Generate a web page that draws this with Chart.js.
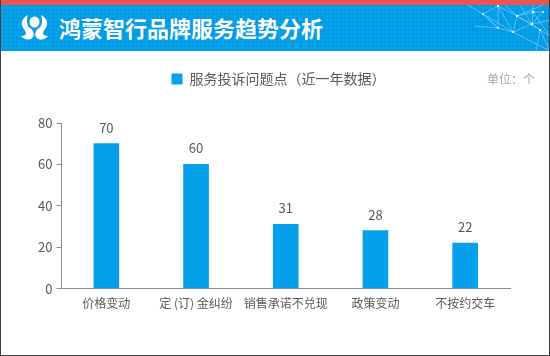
<!DOCTYPE html>
<html lang="zh">
<head>
  <meta charset="UTF-8">
  <title>鸿蒙智行品牌服务趋势分析</title>
  <script src="https://cdn.jsdelivr.net/npm/chart.js"></script>
  <style>
    html, body { margin: 0; padding: 0; background: #fff; }
    body { width: 550px; height: 356px; position: relative; overflow: hidden; font-family: "Noto Sans CJK SC", sans-serif; }
    #frame { position: absolute; left: 0; top: 0; width: 548px; height: 355px; border: 1px solid #404040; border-top: 0; }
    #redbar { position: absolute; left: 0; top: 0; width: 550px; height: 5px; background: #ee5350; }
    #header {
      position: absolute; left: 0; top: 5px; width: 550px; height: 46px;
      background-color: #04a0ea;
      background-image: radial-gradient(circle at 1px 1px, rgba(0,70,160,.12) 1px, transparent 1.2px);
      background-size: 4px 4px;
    }
    #title { position: absolute; left: 59px; top: 12px; font-size: 22px; line-height: 30px; font-weight: 700; color: #fff; white-space: nowrap; }
    #logo, #net { position: absolute; left: 0; top: 0; }
    #unit { position: absolute; left: 487px; top: 70px; font-size: 12px; line-height: 18px; color: #a6a6a6; white-space: nowrap; }
    #chart { position: absolute; left: 0; top: 0; }
  </style>
</head>
<body>
  <canvas id="chart" width="550" height="356"></canvas>
  <div id="redbar"></div>
  <div id="header"></div>
  <svg id="net" width="550" height="51" viewBox="0 0 550 51">
    <g stroke="#cdeeff" stroke-width="0.7" fill="none" opacity="0.6">
      <path d="M468 5 L483 14 L498 6 L517 16 L533 12 L543 12"/>
      <path d="M483 14 L498 28 L513 32 L550 51 M498 6 L498 28 M498 6 L513 32 M483 14 L513 32"/>
      <path d="M517 16 L513 32 L532 24 L540 30 L550 36 M517 16 L532 24 M517 16 L540 30 L550 51"/>
      <path d="M533 12 L532 24 L520 5 M533 12 L548 34 M543 12 L532 24 M543 5 L517 16 M533 5 L533 12"/>
      <path d="M474 26 L498 28 L483 14 M550 20 L532 24 M505 5 L517 16 M540 30 L536 51"/>
    </g>
    <g fill="#eaf8ff">
      <circle cx="483" cy="14" r="1.1"/><circle cx="498" cy="6" r="1.2"/><circle cx="498" cy="28" r="0.9"/>
      <circle cx="513" cy="32" r="1"/><circle cx="517" cy="16" r="1.2"/><circle cx="533" cy="12" r="1.2"/>
      <circle cx="532" cy="24" r="1.2"/><circle cx="540" cy="30" r="1.1"/><circle cx="543" cy="12" r="0.9"/>
    </g>
  </svg>
  <svg id="logo" width="60" height="51" viewBox="0 0 60 51">
    <g fill="#fff">
      <ellipse cx="34.5" cy="22" rx="5" ry="5.5"/>
      <path d="M28 15 C24 17 21 21 22 25 C23 29 26 31 26 33 C26 35 24 36 21 36 C24 40 30 41 33 37 C35 34 33 30 30 28 C27 26 26 21 28 15 Z"/>
      <path d="M28 15 C24 17 21 21 22 25 C23 29 26 31 26 33 C26 35 24 36 21 36 C24 40 30 41 33 37 C35 34 33 30 30 28 C27 26 26 21 28 15 Z" transform="translate(69 0) scale(-1 1)"/>
    </g>
  </svg>
  <div id="title">鸿蒙智行品牌服务趋势分析</div>
  <div id="unit">单位：个</div>
  <div id="frame"></div>

  <script>
    const categories = ["价格变动", "定 (订) 金纠纷", "销售承诺不兑现", "政策变动", "不按约交车"];
    const values = [70, 60, 31, 28, 22];
    const seriesName = "服务投诉问题点（近一年数据）";
    const yTicks = [0, 20, 40, 60, 80];

    const fontFamily = '"Noto Sans CJK SC", sans-serif';

    // 图例下方留白，图例按整页居中
    const legendGap = {
      id: "legendGap",
      beforeInit(chart) {
        const fit = chart.legend.fit;
        chart.legend.fit = function () {
          fit.bind(chart.legend)();
          this.height += 27;
        };
      },
      beforeDraw(chart) {
        chart.legend.left = 0;
        chart.legend.right = 557;
      }
    };

    // 柱顶数值
    const valueLabels = {
      id: "valueLabels",
      afterDatasetsDraw(chart) {
        const ctx = chart.ctx;
        ctx.save();
        ctx.font = "13px " + fontFamily;
        ctx.fillStyle = "#595959";
        ctx.textAlign = "center";
        ctx.textBaseline = "middle";
        chart.getDatasetMeta(0).data.forEach((bar, i) => {
          ctx.fillText(values[i], bar.x, bar.y - 16);
        });
        ctx.restore();
      }
    };

    new Chart(document.getElementById("chart"), {
      type: "bar",
      data: {
        labels: categories,
        datasets: [{ label: seriesName, data: values, backgroundColor: "#04a0ea", barThickness: 25 }]
      },
      plugins: [legendGap, valueLabels],
      options: {
        responsive: false,
        animation: false,
        layout: { padding: { left: 0, right: 40, top: 62, bottom: 45 } },
        plugins: {
          tooltip: { enabled: false },
          legend: {
            position: "top",
            labels: { boxWidth: 11, boxHeight: 11, color: "#595959", padding: 10, font: { family: fontFamily, size: 14 } }
          }
        },
        scales: {
          x: {
            grid: { display: false },
            border: { color: "#8c8c8c" },
            ticks: { color: "#595959", font: { family: fontFamily, size: 12 }, maxRotation: 0, autoSkip: false, padding: 0 }
          },
          y: {
            min: 0,
            max: 80,
            afterBuildTicks(axis) { axis.ticks = yTicks.map(v => ({ value: v })); },
            afterFit(axis) { axis.width = 61.5; },
            grid: { drawOnChartArea: false, tickLength: 5, color: "#8c8c8c" },
            border: { color: "#8c8c8c" },
            ticks: { color: "#595959", font: { family: fontFamily, size: 13 }, padding: 4 }
          }
        }
      }
    });
  </script>
</body>
</html>
